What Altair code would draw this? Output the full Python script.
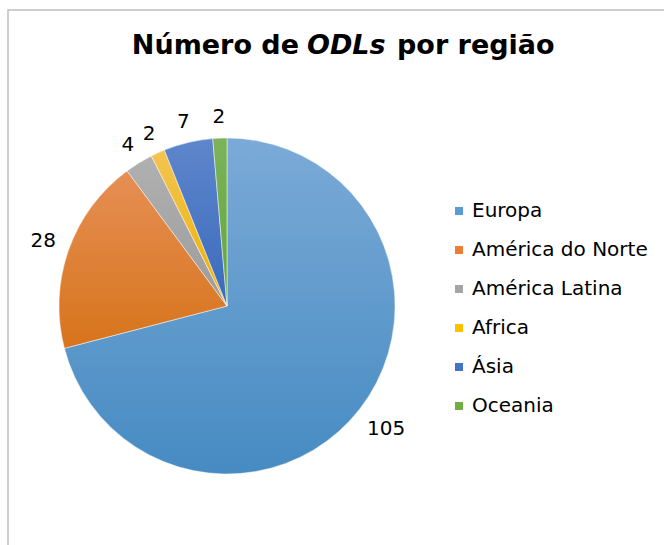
import altair as alt
import pandas as pd

regions = ["Europa", "América do Norte", "América Latina", "Africa", "Ásia", "Oceania"]
counts = [105, 28, 4, 2, 7, 2]
colors = ["#5B9BD5", "#ED7D31", "#A5A5A5", "#FFC000", "#4472C4", "#70AD47"]
top_colors = ["#7BAAD7", "#E68F55", "#B0B0B0", "#F3C453", "#5E86CB", "#7BB35A"]
bottom_colors = ["#468BC2", "#D7741B", "#9C9C9C", "#EDB100", "#3A6ABD", "#62A53A"]

title_parts = ["Número de", "ODLs", "por região"]

df = pd.DataFrame({"regiao": regions, "n": counts, "ordem": list(range(len(regions)))})

FONT = "DejaVu Sans"
CX, CY, R = 227, 306, 168

pie = alt.Chart(df).mark_arc(outerRadius=R, stroke="white", strokeWidth=0.5).encode(
    theta=alt.Theta("n:Q", stack=True),
    order=alt.Order("ordem:Q"),
    x=alt.value(CX),
    y=alt.value(CY),
    color=alt.Color(
        "regiao:N",
        scale=alt.Scale(domain=regions, range=colors),
        legend=alt.Legend(
            title=None,
            orient="none",
            legendX=449,
            legendY=201,
            symbolType="square",
            symbolSize=64,
            symbolStrokeWidth=0,
            labelFont=FONT,
            labelFontSize=20,
            labelColor="#000000",
            labelOffset=3,
            rowPadding=19,
            padding=0,
            labelLimit=300,
        ),
    ),
)

# slice angles computed from the data
angles = alt.Chart(df).transform_joinaggregate(total="sum(n)").transform_window(
    cum="sum(n)", sort=[alt.SortField("ordem")], frame=[None, 0]
).transform_calculate(
    a0="2*PI*(datum.cum - datum.n)/datum.total",
    a1="2*PI*datum.cum/datum.total",
)

grad_layers = []
for reg, c_top, c_bot in zip(regions, top_colors, bottom_colors):
    g = alt.Gradient(
        gradient="linear",
        stops=[alt.GradientStop(color=c_top, offset=0), alt.GradientStop(color=c_bot, offset=1)],
        x1=0, x2=0, y1=0, y2=1,
    )
    grad_layers.append(
        angles.transform_filter(alt.datum.regiao == reg).mark_arc(
            outerRadius=R, color=g, stroke="white", strokeWidth=0.5
        ).encode(
            theta=alt.Theta("a0:Q", scale=None),
            theta2="a1:Q",
            x=alt.value(CX),
            y=alt.value(CY),
        )
    )

labels = angles.transform_calculate(
    amid="(datum.a0 + datum.a1)/2",
    r="183 + 6*length(toString(datum.n))",
).mark_text(font=FONT, fontSize=20, color="#000000").encode(
    text="n:Q",
    theta=alt.Theta("amid:Q", scale=None),
    radius=alt.Radius("r:Q", scale=None),
    x=alt.value(CX),
    y=alt.value(CY),
)

border = alt.Chart(pd.DataFrame({"k": [0]})).mark_rect(
    fill="white", stroke="#BFBFBF", strokeWidth=1.5
).encode(
    x=alt.value(8), x2=alt.value(720), y=alt.value(10), y2=alt.value(620)
)

tdf = pd.DataFrame({"t": title_parts})
TS = 27
t1 = alt.Chart(tdf).transform_filter(alt.datum.t == title_parts[0]).mark_text(
    font=FONT, fontSize=TS, fontWeight="bold", align="right", baseline="alphabetic", color="#000"
).encode(text="t:N", x=alt.value(299), y=alt.value(54))
t2 = alt.Chart(tdf).transform_filter(alt.datum.t == title_parts[1]).mark_text(
    font=FONT, fontSize=TS, fontWeight="bold", fontStyle="italic", align="left", baseline="alphabetic", color="#000"
).encode(text="t:N", x=alt.value(307), y=alt.value(54))
t3 = alt.Chart(tdf).transform_filter(alt.datum.t == title_parts[2]).mark_text(
    font=FONT, fontSize=TS, fontWeight="bold", align="left", baseline="alphabetic", color="#000"
).encode(text="t:N", x=alt.value(397), y=alt.value(54))

chart = alt.layer(border, pie, *grad_layers, labels, t1, t2, t3).properties(
    width=664, height=545, autosize="none", padding=0
).configure_view(stroke=None)

chart.save("out.html", embed_options={"renderer": "svg", "actions": False})
